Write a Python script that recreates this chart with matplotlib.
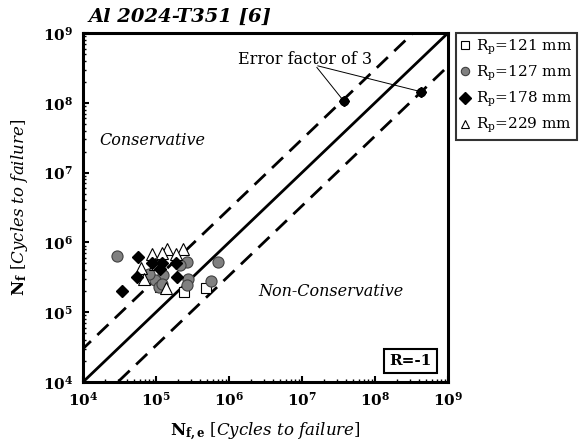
import numpy as np
import matplotlib
matplotlib.use('Agg')
import matplotlib.pyplot as plt

plt.rcParams['font.family'] = 'DejaVu Serif'
plt.rcParams['mathtext.fontset'] = 'dejavuserif'

# log10 of (N_f,e , N_f)
sq_x = [5.38, 5.68, 5.05]
sq_y = [5.29, 5.34, 5.36]

ci_x = [4.46, 5.43, 5.85, 5.33, 5.44, 5.43, 5.75, 5.10, 4.98, 5.04, 4.90, 5.08]
ci_y = [5.80, 5.72, 5.72, 5.67, 5.48, 5.39, 5.45, 5.53, 5.46, 5.36, 5.55, 5.40]

di_x = [4.76, 4.54, 4.74, 5.29, 5.28, 5.08, 4.95, 5.06]
di_y = [5.79, 5.30, 5.50, 5.50, 5.71, 5.70, 5.70, 5.62]

tr_x = [4.95, 5.15, 5.37, 5.08, 5.28, 4.80, 4.98, 4.83, 5.14]
tr_y = [5.84, 5.91, 5.91, 5.85, 5.84, 5.64, 5.69, 5.47, 5.35]

# the two example points for the error factor
ef_x = [7.57, 8.63]
ef_y = [8.03, 8.16]

labels = ['R$_\\mathrm{p}$=121 mm', 'R$_\\mathrm{p}$=127 mm',
          'R$_\\mathrm{p}$=178 mm', 'R$_\\mathrm{p}$=229 mm']

fig = plt.figure(figsize=(5.87, 4.47), dpi=100)
ax = fig.add_axes([0.1414, 0.1454, 0.6216, 0.7806])

line = np.array([1e3, 1e10])
ax.plot(line, line, color='black', lw=2.0)
ax.plot(line, line * 3, color='black', lw=2.0, dashes=(5.5, 3.2))
ax.plot(line, line / 3, color='black', lw=2.0, dashes=(5.5, 3.2))

p = lambda v: 10 ** np.array(v)
h1, = ax.plot(p(sq_x), p(sq_y), 's', ms=7, mfc='white', mec='black', mew=0.8, ls='none')
h2, = ax.plot(p(ci_x), p(ci_y), 'o', ms=8, mfc='#808080', mec='#404040', mew=0.8, ls='none')
h4, = ax.plot(p(tr_x), p(tr_y), '^', ms=9, mfc='white', mec='black', mew=0.8, ls='none')
h3, = ax.plot(p(di_x), p(di_y), 'D', ms=6.5, mfc='black', mec='black', ls='none')
ax.plot(p(ef_x), p(ef_y), 'o', ms=6, color='black', ls='none')
ax.plot(p(ef_x), p(ef_y), 'D', ms=5.5, color='black', ls='none')

for x, y in zip(ef_x, ef_y):
    ax.annotate('', xy=(10 ** x, 10 ** y), xytext=(10 ** 7.18, 10 ** 8.54),
                arrowprops=dict(arrowstyle='-', color='black', lw=0.7))
ax.text(10 ** 6.12, 10 ** 8.62, 'Error factor of 3', fontsize=11.5, va='center')

ax.set_xscale('log')
ax.set_yscale('log')
ax.set_xlim(1e4, 1e9)
ax.set_ylim(1e4, 1e9)

ticks = [1e4, 1e5, 1e6, 1e7, 1e8, 1e9]
tick_labels = [r'$\mathbf{10^{%d}}$' % i for i in range(4, 10)]
ax.set_xticks(ticks)
ax.set_xticklabels(tick_labels, fontsize=11)
ax.set_yticks(ticks)
ax.set_yticklabels(tick_labels, fontsize=11)
ax.tick_params(which='major', direction='in', length=4, width=1.5)
ax.tick_params(axis='y', which='major', pad=7)
ax.tick_params(axis='x', which='major', pad=6)
ax.tick_params(which='minor', direction='in', length=2, width=1)
for s in ax.spines.values():
    s.set_linewidth(2.2)

ax.text(10 ** 4.23, 10 ** 7.46, 'Conservative', fontsize=11.5, style='italic', va='center')
ax.text(10 ** 6.4, 10 ** 5.3, 'Non-Conservative', fontsize=11.5, style='italic', va='center')
ax.text(0.955, 0.04, 'R=-1', transform=ax.transAxes, fontsize=11, fontweight='bold',
        ha='right', va='bottom',
        bbox=dict(boxstyle='square,pad=0.35', fc='white', ec='black', lw=1.5))

ax.set_xlabel(r'$\mathbf{N_{f,e}}$ $\it{[Cycles\ to\ failure]}$', fontsize=12, labelpad=9)
ax.set_ylabel(r'$\mathbf{N_{f}}$ $\it{[Cycles\ to\ failure]}$', fontsize=12, labelpad=9)

fig.text(0.15, 0.962, 'Al 2024-T351 [6]', fontsize=14, fontweight='bold', style='italic',
         va='center')

leg = fig.legend([h1, h2, h3, h4], labels, loc='upper left',
                 bbox_to_anchor=(0.777, 0.926), fontsize=11, frameon=True,
                 fancybox=False, edgecolor='black', handlelength=0.6,
                 handletextpad=0.4, borderpad=0.3, labelspacing=0.45, borderaxespad=0)
leg.get_frame().set_linewidth(1.5)
for hnd in leg.legend_handles:
    hnd.set_markersize(6)

fig.savefig('out.png', dpi=100)
